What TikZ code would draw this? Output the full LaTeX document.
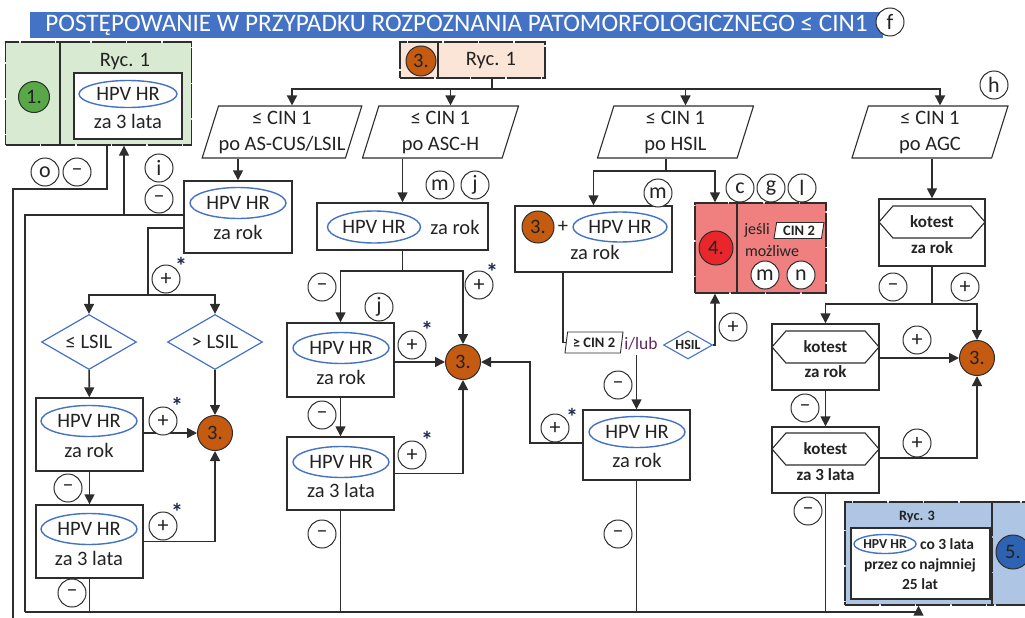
\documentclass[tikz,border=0pt]{standalone}
\usepackage{fontspec}
\setmainfont{Carlito}
\usetikzlibrary{shapes.geometric,shapes.symbols,arrows.meta,positioning}

\definecolor{linec}{RGB}{45,45,45}
\definecolor{textc}{RGB}{35,35,35}
\definecolor{hpvblue}{RGB}{68,114,196}
\definecolor{titleblue}{RGB}{68,114,196}
\definecolor{orangenr}{RGB}{197,90,17}
\definecolor{greenfill}{RGB}{216,234,210}
\definecolor{greennr}{RGB}{88,168,72}
\definecolor{peach}{RGB}{251,229,214}
\definecolor{redfill}{RGB}{240,128,128}
\definecolor{rednr}{RGB}{232,38,43}
\definecolor{bluefill}{RGB}{174,198,228}
\definecolor{bluenr}{RGB}{46,98,178}
\definecolor{lubc}{RGB}{96,40,96}
\definecolor{starc}{RGB}{30,40,80}

\tikzset{
  box/.style={draw=linec, line width=1.4pt, fill=white, inner sep=0pt},
  rycbox/.style={draw=linec, line width=1.4pt, dash pattern=on 34pt off 1.5pt, inner sep=0pt},
  hpv/.style={ellipse, draw=hpvblue, line width=1.4pt, minimum width=96pt, minimum height=31pt, inner sep=0pt},
  sgn/.style={circle, draw=linec, line width=1pt, fill=white, minimum size=28pt, inner sep=0pt, font=\fontsize{22}{22}\selectfont},
  nr/.style={circle, draw=linec, line width=1pt, fill=orangenr, minimum size=35pt, inner sep=0pt},
  io/.style={trapezium, trapezium left angle=69, trapezium right angle=111, trapezium stretches body,
    draw=linec, line width=1.1pt, fill=white, minimum width=156pt, minimum height=52pt, inner sep=0pt,
    align=center, font=\fontsize{20.5}{26}\selectfont},
  smallio/.style={trapezium, trapezium left angle=75, trapezium right angle=105, trapezium stretches body,
    draw=linec, line width=0.9pt, fill=white, inner sep=0pt, font=\bfseries\fontsize{14.5}{15}\selectfont},
  lsil/.style={diamond, aspect=1.75, draw=hpvblue, line width=1.2pt, minimum width=95pt, minimum height=55pt, inner sep=0pt},
  hexa/.style={signal, signal to=east and west, signal pointer angle=98, draw=linec, line width=1.1pt,
    minimum width=106pt, minimum height=32pt, inner sep=0pt, font=\bfseries\fontsize{17}{20}\selectfont},
  arr/.style={-{Triangle[length=10pt,width=10pt]}},
  star/.style={inner sep=0pt, text=starc, font=\bfseries\fontsize{24}{24}\selectfont},
}

\begin{document}
\begin{tikzpicture}[x=1pt, y=-1pt, color=linec, line width=1.6pt,
  font=\fontsize{20.5}{25}\selectfont, every node/.append style={text=textc}]
\useasboundingbox (0,0) rectangle (1025,618);

% Title
\node[fill=titleblue, text=white, minimum width=853pt, minimum height=26pt, inner sep=0pt,
  font=\fontsize{25.2}{26}\selectfont] (title) at (456.5,25)
  {POSTĘPOWANIE W PRZYPADKU ROZPOZNANIA PATOMORFOLOGICZNEGO ≤ CIN1};

% Ryc. 1 (green)
\node[rycbox, fill=greenfill, minimum width=186pt, minimum height=103pt] (ryc1a) at (98.5,93.5) {};
\draw (60,42) -- (60,145);
\node[nr, fill=greennr, minimum size=31pt] (n1) at (34,97) {1.};
\node (ryc1t) at (125,62) {Ryc. 1};
\node[box, minimum width=108pt, minimum height=66pt] (g1in) at (128,106) {};
\node[hpv, minimum width=98pt, minimum height=27pt] (e1) at (128,94) {HPV HR};
\node (t1) at (128,121) {za 3 lata};

% Ryc. 1 (orange)
\node[rycbox, fill=peach, minimum width=145pt, minimum height=36pt] (ryc1b) at (472.5,60) {};
\draw (438,42) -- (438,78);
\node[nr, minimum size=30pt] (n3top) at (421,61) {3.};
\node (ryc1bt) at (491,61) {Ryc. 1};

% Inputs
\node[io] (p1) at (282,132) {≤ CIN 1\\po AS-CUS/LSIL};
\node[io] (p2) at (440.5,132) {≤ CIN 1\\po ASC-H};
\node[io] (p3) at (675.5,132) {≤ CIN 1\\po HSIL};
\node[io] (p4) at (930,132) {≤ CIN 1\\po AGC};

\coordinate (fork) at (492,89);
\draw (fork |- ryc1b.south) -- (fork);
\foreach \p in {p1,p2,p3,p4}
  \draw[arr] (fork) -| ([xshift=10pt]\p.north);

% AS-CUS/LSIL branch
\node[box, minimum width=108pt, minimum height=72pt] (b1) at (238,217) {};
\node[hpv] (e2) at (238,203) {HPV HR};
\node (t2) at (238,232) {za rok};
\draw[arr] (b1 |- p1.south) -- (b1);

\node[lsil] (d1) at (89,342) {≤ LSIL};
\node[lsil] (d2) at (215,342) {> LSIL};
\coordinate (s1) at (148,295);
\draw ([yshift=-11pt]b1.west) -| (s1);
\draw[arr] (s1) -| (d1);
\draw[arr] (s1) -| (d2);

\node[box, minimum width=107pt, minimum height=73pt] (b2) at (89.5,434.5) {};
\node[hpv] (e3) at (89,421) {HPV HR};
\node (t3) at (89,450) {za rok};
\node[nr] (c3a) at (215,433) {3.};
\node[box, minimum width=107pt, minimum height=73pt] (b3) at (89.5,541.5) {};
\node[hpv] (e4) at (89,529) {HPV HR};
\node (t4) at (89,558) {za 3 lata};
\draw[arr] (d1) -- (b2);
\draw[arr] (d2) -- (c3a);
\draw[arr] (b2.east |- c3a) -- (c3a);
\draw[arr] (b2) -- (b3);
\draw[arr] (b3) -| (c3a);

% ASC-H branch
\node[box, minimum width=171pt, minimum height=47pt] (b4) at (402.5,226.5) {};
\node[hpv, minimum width=93pt, minimum height=32pt] (e5) at (374,227) {HPV HR};
\node (t5) at (455,227) {za rok};
\draw[arr] (b4 |- p2.south) -- (b4);

\coordinate (s2) at (402.5,271);
\node[box, minimum width=107pt, minimum height=74pt] (b5) at (340.5,360) {};
\node[hpv] (e6) at (341,348) {HPV HR};
\node (t6) at (341,377) {za rok};
\node[nr] (c3b) at (463,362) {3.};
\node[box, minimum width=107pt, minimum height=73pt] (b6) at (340.5,473.5) {};
\node[hpv] (e7) at (341,462) {HPV HR};
\node (t7) at (341,490) {za 3 lata};
\draw (b4) -- (s2);
\draw[arr] (s2) -| (b5);
\draw[arr] (s2) -| (c3b);
\draw[arr] (b5.east |- c3b) -- (c3b);
\draw[arr] (b5) -- (b6);
\draw[arr] (b6) -| (c3b);

% HSIL branch
\coordinate (hs) at (666,171);
\node[box, minimum width=157pt, minimum height=66pt] (b7) at (593.5,239) {};
\node[nr, minimum size=32pt] (n3b7) at (538,227) {3.};
\node (plus7) at (563,227) {+};
\node[hpv, minimum width=94pt, minimum height=30pt] (e8) at (620,227) {HPV HR};
\node (t8) at (595,252) {za rok};
\node[rycbox, fill=redfill, minimum width=131pt, minimum height=90pt] (r4) at (760.5,248) {};
\draw (737,203) -- (737,293);
\node[nr, fill=rednr, minimum size=34pt] (n4) at (716,248) {4.};
\node[font=\fontsize{16}{18}\selectfont] (jesli) at (757,230) {jeśli};
\node[smallio, minimum width=50pt, minimum height=16pt] (cin2b) at (799,230.5) {CIN 2};
\node[font=\fontsize{16}{18}\selectfont] (mozl) at (772,251) {możliwe};
\draw (hs |- p3.south) -- (hs);
\draw[arr] (hs) -| (b7);
\draw[arr] (hs) -| ([xshift=-45.5pt]r4.north);

\node[smallio, minimum width=58pt, minimum height=21pt] (cin2) at (594,342.5) {≥ CIN 2};
\node[text=lubc, font=\fontsize{17.5}{20}\selectfont] (lub) at (641,344) {i/lub};
\node[diamond, aspect=1.75, draw=hpvblue, line width=1.1pt, minimum width=49pt, minimum height=28pt, inner sep=0pt,
  font=\bfseries\fontsize{14}{15}\selectfont] (hsil) at (688,345) {HSIL};
\draw ([xshift=-30.5pt]b7.south) |- (cin2.west);
\draw[arr] (hsil.east) -| ([xshift=-45.5pt]r4.south);

\node[box, minimum width=107pt, minimum height=70pt] (b8) at (636.5,445) {};
\node[hpv] (e9) at (637,432) {HPV HR};
\node (t9) at (637,460) {za rok};
\draw[arr] (b8 |- lub.south) -- (b8);
\coordinate (k3) at (530,362);
\draw[arr] ([yshift=2pt]b8.west) -| (k3) -- (c3b);

% AGC branch
\node[box, minimum width=106pt, minimum height=67pt] (k1) at (932,232.5) {};
\node[hexa] (h1) at (932,222) {kotest};
\node[font=\bfseries\fontsize{17}{20}\selectfont] (t10) at (932,248) {za rok};
\draw[arr] (k1 |- p4.south) -- (k1);
\coordinate (s4) at (932,304);
\node[nr] (c3c) at (977,358) {3.};
\node[box, minimum width=107pt, minimum height=66pt] (k2) at (825.5,357) {};
\node[hexa, minimum width=107pt] (h2) at (825.5,347) {kotest};
\node[font=\bfseries\fontsize{17}{20}\selectfont] (t11) at (825.5,372) {za rok};
\node[box, minimum width=107pt, minimum height=66pt] (k3b) at (825.5,460) {};
\node[hexa, minimum width=107pt] (h3) at (825.5,449) {kotest};
\node[font=\bfseries\fontsize{17}{20}\selectfont] (t12) at (825.5,475) {za 3 lata};
\draw (k1) -- (s4);
\draw[arr] (s4) -| (k2);
\draw[arr] (s4) -| (c3c);
\draw[arr] (k2.east |- c3c) -- (c3c);
\draw[arr] (k2) -- (k3b);
\draw[arr] ([yshift=2pt]k3b.east) -| (c3c);

% Ryc. 3 (blue)
\node[rycbox, fill=bluefill, minimum width=147pt, minimum height=103pt] (r3) at (918.5,553.5) {};
\draw[rycbox, fill=bluefill] (992,502) rectangle (1045,605);
\node[nr, fill=bluenr, minimum size=34pt] (n5) at (1013,552) {5.};
\node[font=\bfseries\fontsize{14.3}{16}\selectfont] (ryc3t) at (917,517) {Ryc. 3};
\node[box, minimum width=139pt, minimum height=71pt] (r3in) at (920.5,563.5) {};
\node[hpv, minimum width=62pt, minimum height=19pt, font=\bfseries\fontsize{13.7}{15}\selectfont] (e10) at (885,544) {HPV HR};
\node[font=\bfseries\fontsize{15.5}{17}\selectfont] (t13) at (947,544) {co 3 lata};
\node[font=\bfseries\fontsize{15.5}{17}\selectfont] (t14) at (920,565) {przez co najmniej};
\node[font=\bfseries\fontsize{15.5}{17}\selectfont] (t15) at (920,584) {25 lat};

% Negative results back / down
\coordinate (bl) at (25,612);
\coordinate (j1) at (124,215);
\coordinate (out1) at (13,618);
\draw ([yshift=2pt]b1.west) -| (bl);
\draw[arr] (j1) -- (j1 |- ryc1a.south);
\draw ([xshift=8.5pt]ryc1a.south) -- ++(0,43) -| (out1);
\foreach \b in {b3,b6,b8,k3b}
  \draw (\b) -- (\b |- bl);
\draw[arr] (bl) -| (r3);

% Signs
\foreach \n/\x/\y/\t in {o1/45/172/o, m1/77/172/–, i1/159/168/i, m2/159/199/–, p1s/166/279/+,
  p2s/163/421/+, m3/68/488/–, p3s/163/526/+, m4/72/593/–,
  mm1/440/185/m, jj1/475/185/j, m5/322/287/–, p4s/479/285/+, jj2/379/307/j,
  p5s/412/345/+, m6/322/415/–, p6s/412/455/+, m7/322/534/–,
  mm2/658/193/m, p7s/555/428/+, m8/618/385/–, p8s/733/327/+, m9/618/534/–,
  cc/740/188/c, gg/771/188/g, ll/802/188/l, mm3/765/275/m, nn/801/275/n,
  m10/893/287/–, p9s/965/287/+, p10s/917/340/+, m11/805/408/–, p11s/917/443/+, m12/808/511/–,
  h/994/85/h, f/890/22/f}
  \node[sgn] (\n) at (\x,\y) {\t};

% Asterisks
\foreach \x/\y in {181/266, 177/406, 177/512, 492/272, 427/330, 427/440, 572/417}
  \node[star] at (\x,\y) {*};

\end{tikzpicture}
\end{document}
